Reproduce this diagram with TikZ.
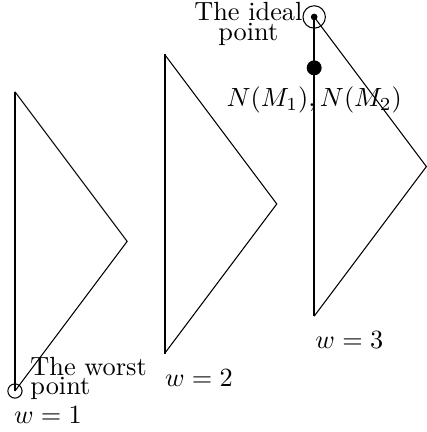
\documentclass[tikz,border=0pt]{standalone}
\usepackage{amsmath}
\usepackage{tikz}

\begin{document}
\begin{tikzpicture}
    \useasboundingbox (-0.2,-0.548) rectangle (5.508,5.227);

    \coordinate (b1) at (0,0);
    \coordinate (t1) at (0,4);
    \coordinate (a1) at (1.5,2);

    \coordinate (b2) at (2,0.5);
    \coordinate (t2) at (2,4.5);
    \coordinate (a2) at (3.5,2.5);

    \coordinate (b3) at (4,1);
    \coordinate (t3) at (4,5);
    \coordinate (a3) at (5.5,3);

    \coordinate (n) at (4,4.32);

    \draw (t1) -- (a1) -- (b1);
    \draw[thick] (b1) -- (t1);

    \draw (t2) -- (a2) -- (b2);
    \draw[thick] (b2) -- (t2);

    \draw (t3) -- (a3) -- (b3);
    \draw[thick] (b3) -- (t3);

    \draw (b1) circle (0.095);
    \draw (t3) circle (0.15);
    \fill (t3) circle (0.045);
    \fill (n) circle (0.1);

    \node[inner sep=0, anchor=west, align=left] (worst) at (0.2,0.17) {The worst\\[-4.5pt]point};
    \node[inner sep=0, align=center] (ideal) at (3.12,4.91) {The ideal\\[-4.5pt]point};
    \node[inner sep=0] (nm) at (4,3.89) {$N(M_1),N(M_2)$};

    \node (w1) at (0.44,-0.32) {$w=1$};
    \node (w2) at (2.46,0.17) {$w=2$};
    \node (w3) at (4.47,0.68) {$w=3$};
  \end{tikzpicture}
\end{document}
